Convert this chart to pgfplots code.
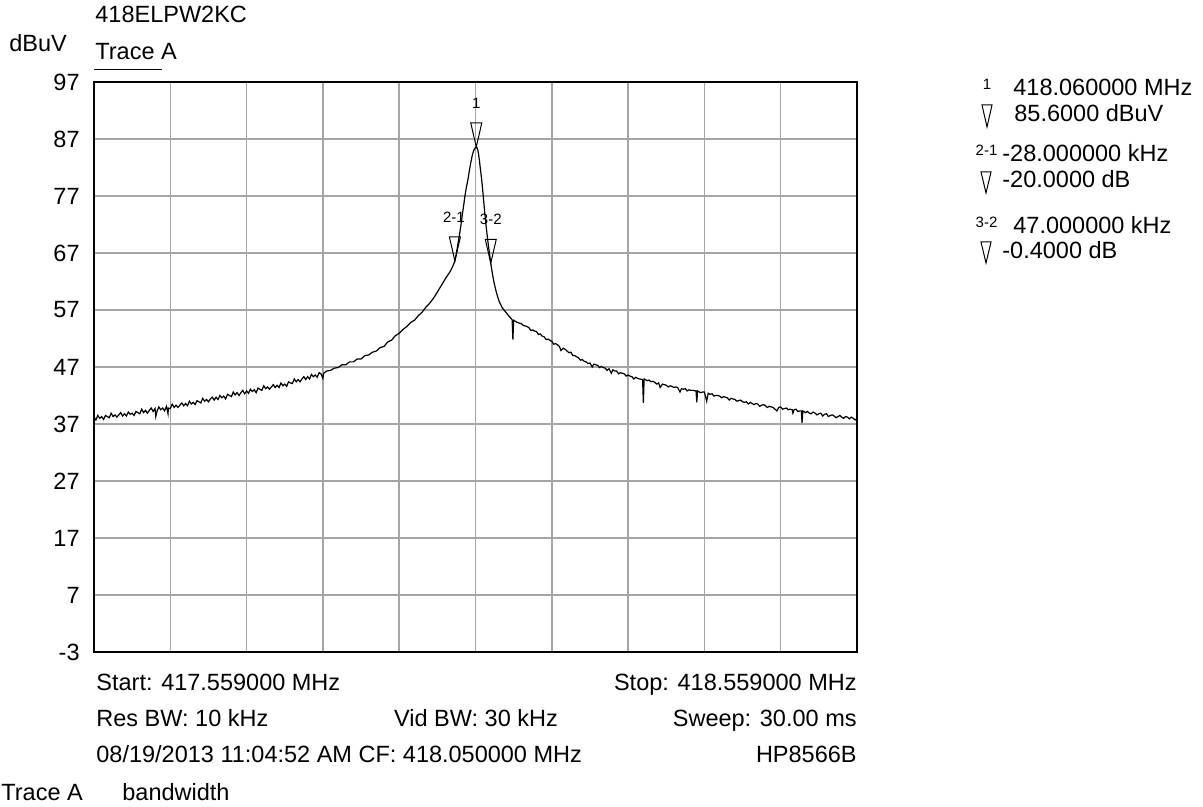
\documentclass[border=0pt]{standalone}
\usepackage{pgfplots}
\pgfplotsset{compat=1.18}
\usepackage{fontspec}
\setmainfont{Liberation Sans}
\definecolor{gridgray}{RGB}{165,165,165}
\pgfdeclareplotmark{mtri}{%
  \pgfpathmoveto{\pgfpoint{0pt}{0pt}}%
  \pgfpathlineto{\pgfpoint{-2.75pt}{12pt}}%
  \pgfpathlineto{\pgfpoint{2.75pt}{12pt}}%
  \pgfpathclose\pgfusepathqstroke}
\newcommand{\mainf}{\fontsize{11.75}{14}\selectfont}
\newcommand{\smallf}{\fontsize{7.5}{9}\selectfont}
\begin{document}
\begin{tikzpicture}[x=0.5pt,y=-0.5pt]
\path (0,0) rectangle (1203,807);
\begin{axis}[
  at={(47pt,-326pt)}, anchor=south west,
  scale only axis, width=381.5pt, height=285pt,
  xmin=0, xmax=1000, ymin=-3, ymax=97,
  xtick={0,100,...,1000}, xticklabels={},
  ytick={-3,7,17,27,37,47,57,67,77,87,97},
  yticklabels={-3,7,17,27,37,47,57,67,77,87,97},
  major tick length=0pt,
  grid=major,
  major grid style={gridgray, line width=0.75pt},
  axis line style={black, line width=1pt},
  yticklabel style={font=\mainf, anchor=east, inner sep=0pt, xshift=-7pt},
]
\addplot[black, line width=0.6pt] coordinates {
(0,38.2)(2.5,37.7)(5,38.5)(7.5,38.0)(10,38.3)(12.5,37.8)(15,38.5)(17.5,38.3)(20,38.1)(22.5,38.9)
(25,38.3)(27.5,38.6)(30,38.2)(32.5,38.6)(35,39.0)(37.5,38.4)(40,38.8)(42.5,38.4)(45,39.1)(47.5,38.7)
(50,38.9)(52.5,38.5)(55,39.2)(57.5,39.0)(60,38.8)(62.5,39.6)(65,39.0)(67.5,39.4)(70,38.9)(72.5,39.4)
(75,39.8)(77.5,39.2)(80,39.7)(81,38.3)(82.5,39.2)(85,40.0)(87.5,39.5)(90,39.8)(92.5,39.3)(95,40.1)
(97,38.8)(97.5,39.8)(100,39.7)(102.5,40.5)(105,39.9)(107.5,40.3)(110,39.9)(112.5,40.3)(115,40.7)(117.5,40.2)
(120,40.6)(122.5,40.2)(125,41.0)(127.5,40.5)(130,40.8)(132.5,40.4)(135,41.1)(137.5,40.9)(140,40.7)(142.5,41.5)
(145,41.0)(147.5,41.3)(150,40.9)(152.5,41.4)(155,41.7)(157.5,41.2)(160,41.7)(162.5,41.3)(165,42.0)(167.5,41.6)
(170,41.9)(172.5,41.4)(175,42.2)(177.5,42.0)(180,41.8)(182.5,42.6)(185,42.1)(187.5,42.5)(190,42.0)(192.5,42.5)
(195,42.9)(197.5,42.3)(200,42.8)(202.5,42.4)(205,43.1)(207.5,42.7)(210,43.0)(212.5,42.5)(215,43.3)(217.5,43.1)
(220,42.9)(222.5,43.7)(225,43.2)(227.5,43.5)(230,43.1)(232.5,43.5)(235,43.9)(237.5,43.4)(240,43.8)(242.5,43.4)
(245,44.2)(247.5,43.7)(250,44.0)(252.5,43.6)(255,44.4)(257.5,44.2)(260,44.1)(262.5,44.9)(265,44.4)(267.5,44.8)
(270,44.4)(272.5,44.9)(275,45.3)(277.5,44.8)(280,45.3)(282.5,44.9)(285,45.7)(287.5,45.3)(290,45.6)(292.5,45.2)
(295,46.0)(297.5,45.8)(300,45.0)(301,45.9)(305,46.3)(310,46.4)(315,46.8)(320,46.9)(325,47.4)(330,47.4)
(335,47.9)(340,47.9)(345,48.4)(350,48.4)(355,49.0)(360,49.1)(365,49.6)(370,49.8)(375,50.4)(380,50.6)
(385,51.4)(390,51.7)(395,52.5)(400,52.9)(405,53.6)(410,54.1)(415,54.8)(420,55.2)(425,56.0)(430,56.6)
(435,57.5)(440,58.2)(444,58.9)(448,59.7)(452,60.6)(457,61.7)(461,62.6)(464,63.2)(467,63.8)(470,64.6)
(473,65.6)(475,67.0)(477,68.6)(479,70.2)(481,72.0)(483,74.0)(485,75.8)(486,76.9)(488,78.5)(490,79.8)
(492,81.5)(494,83.0)(496,84.3)(498,85.1)(500,85.5)(501,85.6)(502,85.5)(503,85.1)(504,84.3)(505,83.4)
(506,82.2)(508,80.0)(510,77.2)(512,74.2)(514,71.6)(516,69.3)(518,67.2)(520,65.2)(522,63.5)(524,62.0)
(526,60.8)(528,59.8)(530,58.9)(532,58.2)(535,57.4)(538,56.9)(541,56.4)(544,55.9)(546,55.6)(548,55.3)
(549,51.8)(550,55.2)(555,54.8)(560,54.6)(562.5,54.3)(565,54.2)(567.5,54.1)(570,53.9)(572.5,53.4)(575,53.5)
(577.5,53.3)(580,53.2)(582.5,52.7)(585,52.8)(587.5,52.4)(590,52.3)(592.5,51.8)(595,51.9)(597.5,51.7)(600,51.5)
(602.5,51.0)(605,51.1)(607.5,50.9)(610,50.6)(612,49.9)(615,50.3)(617.5,50.1)(620,49.8)(622.5,49.5)(625,49.6)
(627.5,49.0)(630,49.0)(632.5,48.8)(635,48.6)(637.5,48.2)(640,48.3)(642.5,48.0)(645,47.9)(647.5,47.6)(650,47.7)
(653,47.0)(655,47.5)(657.5,47.4)(660,47.3)(662.5,46.9)(665,47.1)(667.5,46.9)(670,46.8)(672.5,46.4)(675,46.7)
(678,45.9)(680,46.5)(682.5,46.3)(685,46.3)(687.5,45.8)(690,46.0)(692.5,45.9)(695,45.8)(697.5,45.4)(700,45.6)
(702.5,45.4)(705,45.3)(707.5,44.9)(710,45.2)(712.5,45.0)(715,44.9)(719,44.8)(720,40.7)(721,44.9)(725,44.6)
(727.5,44.7)(730,44.4)(732.5,44.5)(735,44.3)(737.5,44.0)(740,44.2)(742,43.4)(745,44.0)(747.5,43.9)(750,43.8)
(752.5,43.5)(755,43.7)(757.5,43.6)(760,43.4)(762.5,43.5)(765,43.4)(768,42.6)(770,43.2)(772.5,43.1)(775,43.2)
(777.5,42.8)(780,43.0)(782.5,42.9)(785,42.9)(789,42.8)(790,40.8)(791,42.8)(795,42.5)(797.5,42.6)(800,42.6)
(803,41.0)(805,42.4)(807.5,42.2)(810,42.3)(812.5,41.9)(815,42.0)(817.5,42.0)(820,41.9)(822.5,41.6)(825,41.8)
(827.5,41.7)(830,41.6)(832.5,41.2)(835,41.5)(837.5,41.4)(840,41.3)(842.5,41.0)(845,41.1)(847.5,41.2)(850,40.9)
(852.5,40.8)(855,40.9)(857.5,40.5)(860,40.8)(862.5,40.6)(865,40.4)(867.5,40.6)(870,40.5)(872.5,40.1)(875,40.3)
(877.5,40.4)(880,40.2)(882.5,39.9)(885,40.1)(887.5,40.0)(890,39.9)(895,39.3)(897.5,39.9)(900,40.0)(902.5,39.6)
(905,39.7)(907.5,39.8)(910,39.5)(912.5,39.6)(915,39.5)(916,38.9)(917.5,39.5)(920,39.6)(922.5,39.2)(925,39.3)
(927,39.3)(928,37.2)(929,39.3)(932.5,39.0)(935,39.2)(937.5,38.9)(940,38.8)(942.5,39.1)(945,38.9)(947.5,38.6)
(950,38.8)(952.5,38.9)(955,38.4)(957.5,38.7)(960,38.8)(962.5,38.3)(965,38.5)(967.5,38.6)(970,38.4)(972.5,38.1)
(975,38.3)(977.5,38.5)(980,38.2)(982.5,38.0)(985,38.3)(987.5,38.2)(990,37.9)(992.5,38.2)(995,38.0)(997.5,37.7)
(1000,38.0)
};
\addplot[only marks, mark=mtri, mark options={black, line width=0.5pt}] coordinates {(501,85.6)(473,65.6)(520,65.2)};
\node[font=\smallf, inner sep=0pt, yshift=22pt] at (axis cs:501,85.6) {1};
\node[font=\smallf, inner sep=0pt, yshift=22pt, xshift=-0.5pt] at (axis cs:473,65.6) {2-1};
\node[font=\smallf, inner sep=0pt, yshift=22pt] at (axis cs:520,65.2) {3-2};
\end{axis}
% header
\node[font=\mainf, anchor=base west, inner sep=0pt] at (95,23) {418ELPW2KC};
\node[font=\mainf, anchor=base west, inner sep=0pt] at (9,52) {dBuV};
\node[font=\mainf, anchor=base west, inner sep=0pt] at (95,60) {Trace A};
\draw[line width=0.5pt] (94,70) -- (162,70);
% footer
\node[font=\mainf, anchor=base west, inner sep=0pt] at (96,690) {Start: 417.559000 MHz};
\node[font=\mainf, anchor=base east, inner sep=0pt] at (857,690) {Stop: 418.559000 MHz};
\node[font=\mainf, anchor=base west, inner sep=0pt] at (96,726) {Res BW: 10 kHz};
\node[font=\mainf, anchor=base, inner sep=0pt] at (476,726) {Vid BW: 30 kHz};
\node[font=\mainf, anchor=base east, inner sep=0pt] at (857,726) {Sweep: 30.00 ms};
\node[font=\mainf, anchor=base west, inner sep=0pt] at (96,762) {08/19/2013 11:04:52 AM CF: 418.050000 MHz};
\node[font=\mainf, anchor=base east, inner sep=0pt] at (857,762) {HP8566B};
\node[font=\mainf, anchor=base west, inner sep=0pt] at (1,800) {Trace A};
\node[font=\mainf, anchor=base west, inner sep=0pt] at (122,800) {bandwidth};
% marker readout
\node[font=\smallf, anchor=base, inner sep=0pt] at (987,90) {1};
\node[font=\mainf, anchor=base west, inner sep=0pt] at (1013,96) {418.060000 MHz};
\draw[line width=0.5pt] (982,105) -- (992,105) -- (987,127) -- cycle;
\node[font=\mainf, anchor=base west, inner sep=0pt] at (1014,122) {85.6000 dBuV};
\node[font=\smallf, anchor=base, inner sep=0pt] at (986.5,156) {2-1};
\node[font=\mainf, anchor=base west, inner sep=0pt] at (1002,162) {-28.000000 kHz};
\draw[line width=0.5pt] (981,172) -- (991,172) -- (986,193) -- cycle;
\node[font=\mainf, anchor=base west, inner sep=0pt] at (1002,188) {-20.0000 dB};
\node[font=\smallf, anchor=base, inner sep=0pt] at (986.5,228) {3-2};
\node[font=\mainf, anchor=base west, inner sep=0pt] at (1013,234) {47.000000 kHz};
\draw[line width=0.5pt] (981,242) -- (991,242) -- (986,263) -- cycle;
\node[font=\mainf, anchor=base west, inner sep=0pt] at (1002,259) {-0.4000 dB};
\end{tikzpicture}
\end{document}
